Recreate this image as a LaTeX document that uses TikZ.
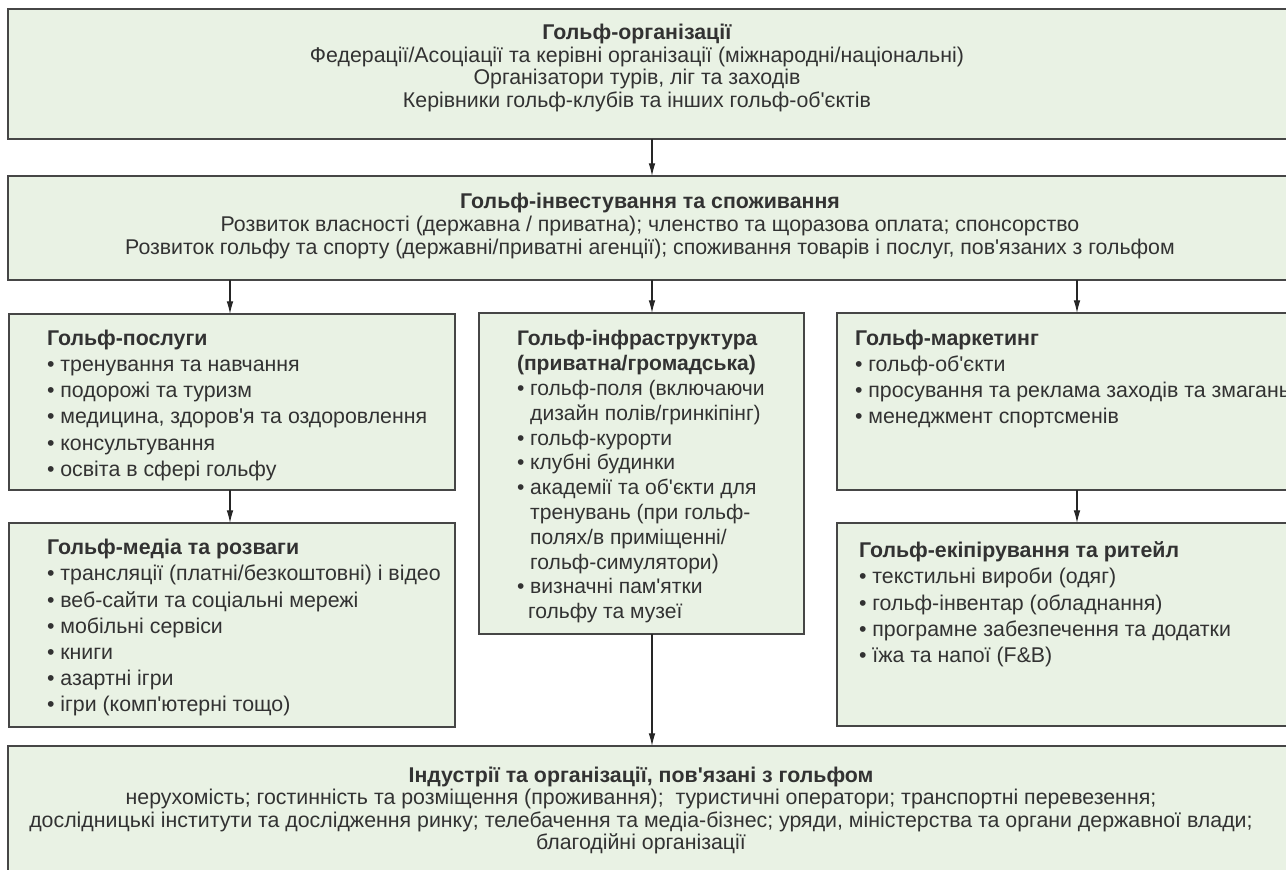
\documentclass[tikz,border=0pt]{standalone}
\usepackage{fontspec}
\setmainfont{Liberation Sans}[Ligatures=TeXOff]
\usetikzlibrary{arrows.meta}
\definecolor{boxfill}{RGB}{233,242,228}
\definecolor{boxline}{RGB}{70,70,70}
\definecolor{txt}{RGB}{50,50,50}
\newcommand\nolsk{\lineskiplimit=-10pt\lineskip=0pt}
\newcommand\fTop{\fontsize{16pt}{16.875pt}\selectfont\nolsk}
\newcommand\fInv{\fontsize{16pt}{17.4pt}\selectfont\nolsk}
\newcommand\fInd{\fontsize{16pt}{16.875pt}\selectfont\nolsk}
\newcommand\fSide{\fontsize{16pt}{19.6pt}\selectfont\nolsk}
\newcommand\fMid{\fontsize{15.8pt}{18.6pt}\selectfont\nolsk}
\begin{document}
\begin{tikzpicture}[x=0.75pt,y=-0.75pt,
  box/.style={draw=boxline,line width=1.2pt,fill=boxfill,inner sep=0pt,outer sep=0pt,anchor=north west},
  tx/.style={text=txt,inner sep=0pt,outer sep=0pt},
  arr/.style={draw=black!85,line width=0.8pt,-{Latex[length=9.5pt,width=5pt]}}]
\fill[white] (0,0) rectangle (1286,870);
\useasboundingbox (0,0) rectangle (1286,870);
\clip (0,0) rectangle (1286,870);

% boxes
\node[box,minimum width=969pt,minimum height=97.5pt] (top) at (8,9) {};
\node[box,minimum width=969pt,minimum height=78pt] (inv) at (8,176) {};
\node[box,minimum width=334.5pt,minimum height=132pt] (svc) at (9,314) {};
\node[box,minimum width=334.5pt,minimum height=153pt] (med) at (9,523) {};
\node[box,minimum width=243.75pt,minimum height=240.75pt] (infra) at (479,313) {};
\node[box,minimum width=347.25pt,minimum height=132.75pt] (mkt) at (837,313) {};
\node[box,minimum width=347.25pt,minimum height=152.25pt] (equip) at (837,523) {};
\node[box,minimum width=969pt,minimum height=115.5pt] (ind) at (8,746) {};

% texts
\node[tx,anchor=north,align=center,font=\fTop] (toptxt) at (637,24.25)
 {\strut\textbf{Гольф-організації}\\
  Федерації/Асоціації та керівні організації (міжнародні/національні)\\
  Організатори турів, ліг та заходів\\
  Керівники гольф-клубів та інших гольф-об'єктів};
\node[tx,anchor=north,align=center,font=\fInv] (invtxt) at (650,191.8)
 {\strut\textbf{Гольф-інвестування та споживання}\\
  Розвиток власності (державна / приватна); членство та щоразова оплата; спонсорство\\
  Розвиток гольфу та спорту (державні/приватні агенції); споживання товарів і послуг, пов'язаних з гольфом};
\node[tx,anchor=north west,align=left,font=\fSide] (svctxt) at (47,327.3)
 {\strut\textbf{Гольф-послуги}\\
  • тренування та навчання\\
  • подорожі та туризм\\
  • медицина, здоров'я та оздоровлення\\
  • консультування\\
  • освіта в сфері гольфу};
\node[tx,anchor=north west,align=left,font=\fSide] (medtxt) at (47,536.5)
 {\strut\textbf{Гольф-медіа та розваги}\\
  • трансляції (платні/безкоштовні) і відео\\
  • веб-сайти та соціальні мережі\\
  • мобільні сервіси\\
  • книги\\
  • азартні ігри\\
  • ігри (комп'ютерні тощо)};
\node[tx,anchor=north west,align=left,font=\fMid] (infratxt) at (517,328.5)
 {\strut\textbf{Гольф-інфраструктура}\\
  \textbf{(приватна/громадська)}\\
  • гольф-поля (включаючи\\
  \phantom{• }дизайн полів/гринкіпінг)\\
  • гольф-курорти\\
  • клубні будинки\\
  • академії та об'єкти для\\
  \phantom{• }тренувань (при гольф-\\
  \phantom{• }полях/в приміщенні/\\
  \phantom{• }гольф-симулятори)\\
  • визначні пам'ятки\\
  \hspace*{8.25pt}гольфу та музеї};
\node[tx,anchor=north west,align=left,font=\fSide] (mkttxt) at (855,327.3)
 {\strut\textbf{Гольф-маркетинг}\\
  • гольф-об'єкти\\
  • просування та реклама заходів та змагань\\
  • менеджмент спортсменів};
\node[tx,anchor=north west,align=left,font=\fSide] (equiptxt) at (859,539.5)
 {\strut\textbf{Гольф-екіпірування та ритейл}\\
  • текстильні вироби (одяг)\\
  • гольф-інвентар (обладнання)\\
  • програмне забезпечення та додатки\\
  • їжа та напої (F\&B)};
\node[tx,anchor=north,align=center,font=\fInd] (indtxt) at (641,766.25)
 {\strut\textbf{Індустрії та організації, пов'язані з гольфом}\\
  нерухомість; гостинність та розміщення (проживання);\ \ туристичні оператори; транспортні перевезення;\\
  дослідницькі інститути та дослідження ринку; телебачення та медіа-бізнес; уряди, міністерства та органи державної влади;\\
  благодійні організації};

% connectors
\coordinate (xa) at (652,0);
\coordinate (xl) at (230,0);
\coordinate (xr) at (1077,0);
\draw[arr] (top.south -| xa) -- (inv.north -| xa);
\draw[arr] (inv.south -| xl) -- (svc.north -| xl);
\draw[arr] (inv.south -| xa) -- (infra.north -| xa);
\draw[arr] (inv.south -| xr) -- (mkt.north -| xr);
\draw[arr] (svc.south -| xl) -- (med.north -| xl);
\draw[arr] (mkt.south -| xr) -- (equip.north -| xr);
\draw[arr] (infra.south -| xa) -- (ind.north -| xa);
\end{tikzpicture}
\end{document}
